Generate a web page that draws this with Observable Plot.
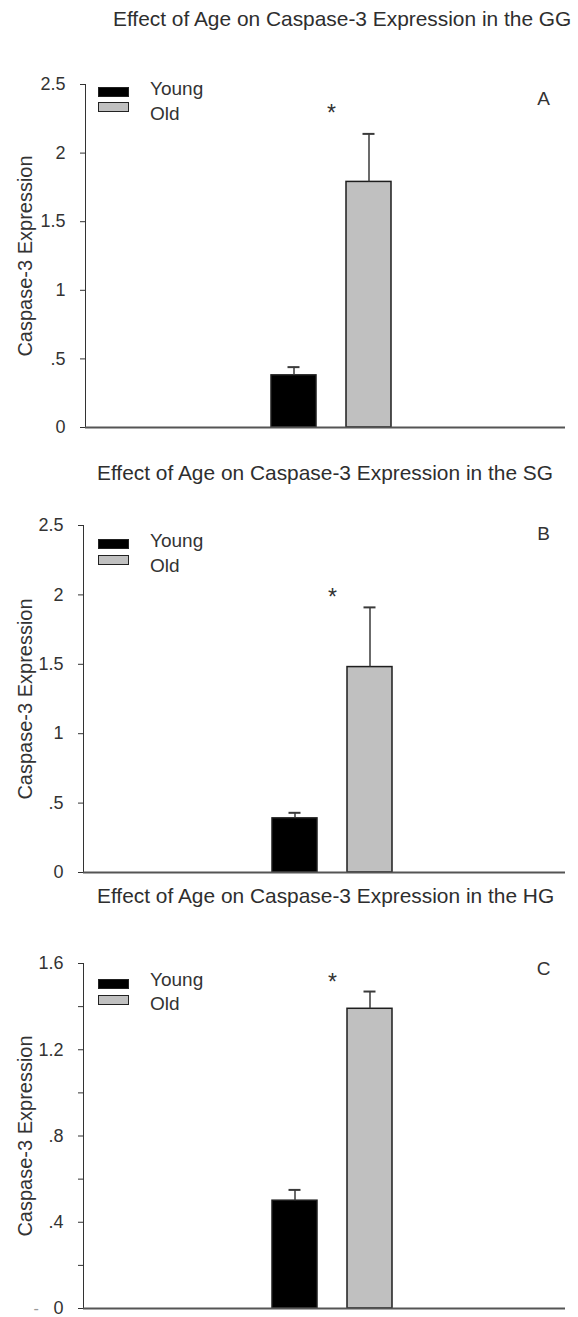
<!DOCTYPE html>
<html>
<head>
<meta charset="utf-8">
<script src="https://cdn.jsdelivr.net/npm/d3@7"></script>
<script src="https://cdn.jsdelivr.net/npm/@observablehq/plot@0.6"></script>
<style>
  html, body { margin: 0; padding: 0; background: #ffffff; }
  #root { position: relative; width: 578px; height: 1317px; overflow: hidden;
          font-family: "Liberation Sans", Arial, sans-serif; color: #333; }
  .title { position: absolute; font-size: 20.9px; line-height: 1; white-space: nowrap; color: #2e2e2e; }
  .panel { position: absolute; left: 0; }
  .sw { position: absolute; width: 31px; height: 10px; box-sizing: border-box; }
  .lg { position: absolute; font-size: 19px; line-height: 1; white-space: nowrap; color: #333; }
</style>
</head>
<body>
<div id="root"></div>
<script>
// ---------- data ----------
const groups = ["Young", "Old"];
const panelLetters = ["A", "B", "C"];
const regions = ["GG", "SG", "HG"];
const titlePrefix = "Effect of Age on Caspase-3 Expression in the ";
const yLabel = "Caspase-3 Expression";
const meansGG = [0.38, 1.79];
const semsGG = [0.06, 0.35];
const meansSG = [0.39, 1.48];
const semsSG = [0.04, 0.43];
const meansHG = [0.50, 1.39];
const semsHG = [0.05, 0.08];
const yMaxes = [2.5, 2.5, 1.6];
const ticksAB = [0, 0.5, 1, 1.5, 2, 2.5];
const ticksC = [0, 0.2, 0.4, 0.6, 0.8, 1.0, 1.2, 1.4, 1.6];
const labelledTicksC = [0, 0.4, 0.8, 1.2, 1.6];
const starValues = [2.29, 1.98, 1.51];
const starText = "*";
const fills = ["#000000", "#c0c0c0"];

const means = [meansGG, meansSG, meansHG];
const sems = [semsGG, semsSG, semsHG];
const tickSets = [ticksAB, ticksAB, ticksC];

// ---------- layout (positions/sizes only) ----------
const layout = [
  {top: 60, height: 380, mt: 24, mb: 13, ml: 85, xr: [271, 391], titleLeft: 113, titleTop: 9,
   legTop: [87, 102], textTop: [79, 104], letterDy: 14, labelDx: -60},
  {top: 500, height: 385, mt: 25, mb: 13, ml: 83, xr: [272, 392], titleLeft: 97, titleTop: 463,
   legTop: [539, 555], textTop: [531, 556], letterDy: 8, labelDx: -58},
  {top: 940, height: 377, mt: 23, mb: 9, ml: 83, xr: [272, 392], titleLeft: 97, titleTop: 886,
   legTop: [979, 995], textTop: [970, 994], letterDy: 5, labelDx: -58}
];

const root = document.getElementById("root");
const fmt = d => d === 0 ? "0" : String(+d.toFixed(2)).replace(/^0\./, ".");

panelLetters.forEach((letter, i) => {
  const L = layout[i];
  const rows = groups.map((g, j) => ({group: g, mean: means[i][j], sem: sems[i][j]}));

  const title = document.createElement("div");
  title.className = "title";
  title.style.left = L.titleLeft + "px";
  title.style.top = L.titleTop + "px";
  title.textContent = titlePrefix + regions[i];
  root.appendChild(title);

  const tickFormat = i === 2
    ? (d => labelledTicksC.some(v => Math.abs(v - d) < 1e-9) ? fmt(d) : "")
    : fmt;

  const marks = [
    Plot.barY(rows, {x: "group", y: "mean", fill: "group", stroke: "#1e1e1e", strokeWidth: 1.5}),
    Plot.ruleX(rows, {x: "group", y1: "mean", y2: d => d.mean + d.sem, stroke: "#3a3a3a", strokeWidth: 1.5}),
    Plot.tickY(rows, {x: "group", y: d => d.mean + d.sem, stroke: "#3a3a3a", strokeWidth: 2, insetLeft: 16.5, insetRight: 16.5}),
    Plot.ruleY([0], {stroke: "#555", strokeWidth: 2}),
    Plot.text([starValues[i]], {x: () => "Young", y: d => d, text: () => starText, dx: 37.5, fontSize: 23, fill: "#333", lineAnchor: "middle"}),
    Plot.text([letter], {frameAnchor: "top-right", text: d => d, dx: -22, dy: L.letterDy, fontSize: 19, fill: "#333", textAnchor: "middle", lineAnchor: "middle"}),
    Plot.text([yLabel], {frameAnchor: "left", text: d => d, rotate: -90, dx: L.labelDx, fontSize: 20, fill: "#333", textAnchor: "middle", lineAnchor: "middle"})
  ];
  if (i === 2) {
    marks.push(Plot.text(["-"], {frameAnchor: "bottom-left", text: d => d, dx: -50, dy: 0, fontSize: 16, fill: "#999", lineAnchor: "middle"}));
  }

  const svg = Plot.plot({
    width: 578,
    height: L.height,
    marginTop: L.mt,
    marginBottom: L.mb,
    marginLeft: L.ml,
    marginRight: 13,
    style: {fontFamily: "'Liberation Sans', Arial, sans-serif", fontSize: "18px", color: "#333", background: "transparent", overflow: "visible"},
    x: {type: "band", domain: groups, range: L.xr, paddingInner: 0.4, paddingOuter: 0, axis: null},
    y: {domain: [0, yMaxes[i]], ticks: tickSets[i], tickFormat, tickSize: 5, tickPadding: 15, line: true, label: null},
    color: {domain: groups, range: fills},
    marks
  });
  const wrap = document.createElement("div");
  wrap.className = "panel";
  wrap.style.top = L.top + "px";
  wrap.appendChild(svg);
  root.appendChild(wrap);

  // legend (inside plot area)
  groups.forEach((g, j) => {
    const sw = document.createElement("div");
    sw.className = "sw";
    sw.style.left = "98px";
    sw.style.top = L.legTop[j] + "px";
    sw.style.background = fills[j];
    sw.style.border = "1.5px solid #222";
    root.appendChild(sw);
    const t = document.createElement("div");
    t.className = "lg";
    t.style.left = "150px";
    t.style.top = L.textTop[j] + "px";
    t.textContent = g;
    root.appendChild(t);
  });
});
</script>
</body>
</html>
